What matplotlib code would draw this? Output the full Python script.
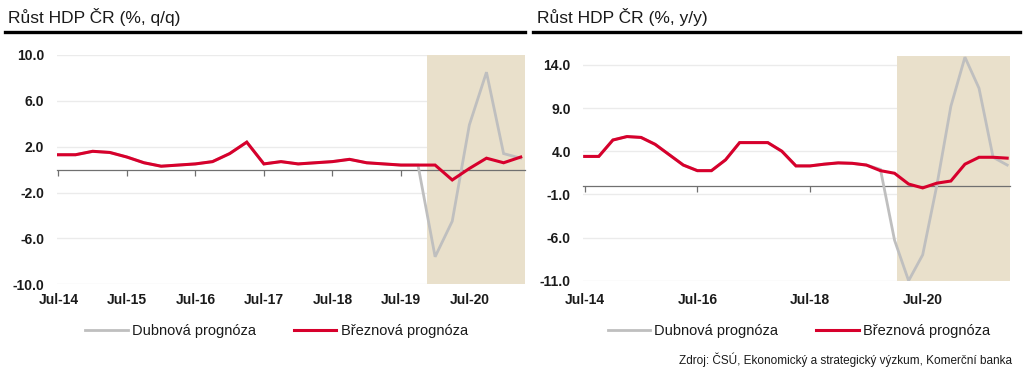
import numpy as np
import matplotlib
matplotlib.use("Agg")
import matplotlib.pyplot as plt
from matplotlib.lines import Line2D

plt.rcParams['font.family'] = ['Liberation Sans', 'DejaVu Sans']

# ---------------- data ----------------
# quarterly, starting Q3 2014
qq_brezen = [1.3, 1.3, 1.6, 1.5, 1.1, 0.6, 0.3, 0.4, 0.5, 0.7, 1.4, 2.4, 0.5, 0.7,
             0.5, 0.6, 0.7, 0.9, 0.6, 0.5, 0.4, 0.4, 0.4, -0.9, 0.1, 1.0, 0.6, 1.1]
qq_duben = qq_brezen[:22] + [-7.6, -4.5, 3.9, 8.5, 1.4, 1.0]
qq_ticklabels = ["Jul-14", "Jul-15", "Jul-16", "Jul-17", "Jul-18", "Jul-19", "Jul-20"]
qq_yticks = [-10.0, -6.0, -2.0, 2.0, 6.0, 10.0]

yy_brezen = [3.4, 3.4, 5.3, 5.7, 5.6, 4.8, 3.6, 2.4, 1.75, 1.75, 3.0, 5.0, 5.0, 5.0,
             4.0, 2.3, 2.3, 2.5, 2.65, 2.6, 2.4, 1.75, 1.45, 0.2, -0.25, 0.3, 0.55,
             2.5, 3.3, 3.3, 3.2]
yy_duben = yy_brezen[:21] + [1.9, -6.3, -11.0, -8.0, 0.0, 9.2, 14.9, 11.3, 3.3, 2.4]
yy_ticklabels = ["Jul-14", "Jul-16", "Jul-18", "Jul-20"]
yy_yticks = [-11.0, -6.0, -1.0, 4.0, 9.0, 14.0]

series_names = ["Dubnová prognóza", "Březnová prognóza"]
titles = ["Růst HDP ČR (%, q/q)", "Růst HDP ČR (%, y/y)"]
source = "Zdroj: ČSÚ, Ekonomický a strategický výzkum, Komerční banka"

# ---------------- style ----------------
RED = '#d7002c'
GRAY = '#bfbfbf'
SHADE = '#e9e0cb'
GRID = '#ebebeb'
ZERO = '#707070'
TXT = '#1a1a1a'

W, H = 1024, 376
fig = plt.figure(figsize=(W / 100, H / 100), dpi=100)


def px_axes(x0, x1, ytop, ybot):
    return fig.add_axes([x0 / W, 1 - ybot / H, (x1 - x0) / W, (ybot - ytop) / H])


def draw_panel(ax, duben, brezen, ticklabels, tickstep, yticks, ylim, xlim,
               shade_start, label_pad):
    x = np.arange(len(brezen))
    ax.set_xlim(*xlim)
    ax.set_ylim(*ylim)
    ax.axvspan(shade_start, xlim[1], color=SHADE, lw=0, zorder=1)
    ax.set_yticks(yticks)
    ax.set_yticklabels([f"{v:.1f}" for v in yticks])
    ax.yaxis.grid(True, color=GRID, lw=1.0, zorder=0.5)
    ax.set_axisbelow(True)
    for s in ['top', 'right', 'left']:
        ax.spines[s].set_visible(False)
    ax.spines['bottom'].set_position(('data', 0))
    ax.spines['bottom'].set_color(ZERO)
    ax.spines['bottom'].set_linewidth(0.9)
    ax.spines['bottom'].set_zorder(2)
    ticks = np.arange(0, len(brezen), tickstep)[:len(ticklabels)]
    ax.set_xticks(ticks)
    ax.tick_params(axis='x', direction='out', length=4, color=ZERO, width=0.9,
                   labelbottom=False)
    ax.tick_params(axis='y', length=0, pad=9, labelsize=10, labelcolor=TXT)
    for lab in ax.get_yticklabels():
        lab.set_fontweight('bold')
    sec = ax.secondary_xaxis('bottom')
    sec.set_xticks(ticks)
    sec.set_xticklabels(ticklabels)
    sec.tick_params(length=0, pad=label_pad, labelsize=10, labelcolor=TXT)
    sec.spines['bottom'].set_visible(False)
    for lab in sec.get_xticklabels():
        lab.set_fontweight('bold')
    l1, = ax.plot(x, duben, color=GRAY, lw=2.0, zorder=3, solid_joinstyle='miter')
    l2, = ax.plot(x, brezen, color=RED, lw=2.2, zorder=4, solid_joinstyle='miter')
    return l1, l2


ax1 = px_axes(56.7, 525, 55, 284.3)
h1 = draw_panel(ax1, qq_duben, qq_brezen, qq_ticklabels, 4, qq_yticks, (-10, 10),
                (-0.1, 27.25), 21.55, 6)

ax2 = px_axes(583.3, 1010, 56.3, 280.7)
h2 = draw_panel(ax2, yy_duben, yy_brezen, yy_ticklabels, 8, yy_yticks, (-11, 15),
                (-0.1, 30.2), 22.2, 9)

# titles and rules
fig.text(8 / W, 1 - 17 / H, titles[0], fontsize=12.5, color=TXT, va='center', ha='left')
fig.text(537 / W, 1 - 17 / H, titles[1], fontsize=12.5, color=TXT, va='center', ha='left')
fig.add_artist(Line2D([5 / W, 525 / W], [1 - 32 / H] * 2, color='black', lw=2.4))
fig.add_artist(Line2D([533 / W, 1020 / W], [1 - 32 / H] * 2, color='black', lw=2.4))

# legends
for handles, cx in ((h1, 276.5), (h2, 799)):
    fig.legend(handles, series_names, loc='center', bbox_to_anchor=(cx / W, 1 - 331 / H),
               ncol=2, frameon=False, fontsize=10.5, handlelength=2.9,
               handletextpad=0.3, columnspacing=2.6, labelcolor=TXT)

fig.text(1012 / W, 1 - 360 / H, source, fontsize=8.5, color=TXT, ha='right', va='center')

fig.savefig('out.png', dpi=100, facecolor='white')
